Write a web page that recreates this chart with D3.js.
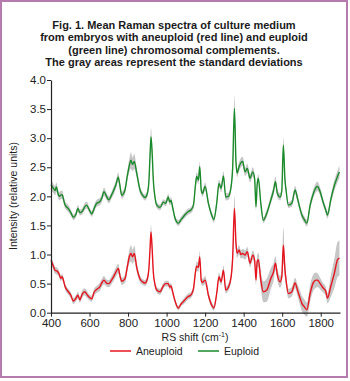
<!DOCTYPE html>
<html><head><meta charset="utf-8">
<script src="https://cdn.jsdelivr.net/npm/d3@7"></script>
<style>
html,body{margin:0;padding:0;background:#fff;}
svg{display:block;}
text{font-family:"Liberation Sans",Arial,Helvetica,sans-serif;}
</style></head>
<body>
<svg id="chart" width="350" height="381"></svg>
<script>
const titleLines = [
  "Fig. 1. Mean Raman spectra of culture medium",
  "from embryos with aneuploid (red line) and euploid",
  "(green line) chromosomal complements.",
  "The gray areas represent the standard deviations"
];
const xTicks = [400,600,800,1000,1200,1400,1600,1800];
const yTicks = [0,0.5,1,1.5,2,2.5,3,3.5,4];
const seriesNames = ["Aneuploid","Euploid"];

const shift = [
400,410,421,428,436,443,450,458,465,473,
490,503,516,528,540,550,562,575,585,597,
611,625,637,654,665,675,688,700,714,725,
737,749,757,767,784,796,808,815,823,832,
845,862,875,888,900,908,914,919,925,931,
940,949,966,983,995,1009,1016,1023,1032,1044,
1061,1075,1087,1100,1113,1125,1139,1150,1156,1165,
1172,1180,1186,1200,1217,1234,1245,1260,1272,1283,
1295,1307,1321,1335,1343,1352,1360,1366,1376,1386,
1395,1407,1419,1433,1447,1457,1464,1470,1476,1489,
1502,1520,1541,1555,1565,1575,1589,1598,1606,1614,
1620,1632,1650,1667,1679,1690,1702,1715,1728,1745,
1762,1775,1783,1797,1814,1825,1835,1852,1871,1887,
1897];

const euploid = [
2.20,2.15,2.10,2.16,2.05,2.00,2.02,2.03,1.95,1.85,
1.79,1.72,1.64,1.68,1.79,1.72,1.74,1.82,1.85,1.78,
1.70,1.80,1.88,1.91,1.98,2.08,2.00,1.94,2.02,2.10,
2.20,2.33,2.20,2.02,2.11,2.35,2.55,2.62,2.55,2.60,
2.40,2.11,2.02,1.98,2.05,2.25,2.70,3.02,2.75,2.28,
1.98,1.85,1.81,1.90,1.88,1.99,1.90,1.93,1.80,1.62,
1.54,1.60,1.65,1.70,1.74,1.76,1.84,2.20,2.34,2.28,
2.51,2.10,2.05,2.17,1.88,1.68,1.60,1.88,2.22,2.14,
2.35,1.99,2.00,2.17,2.50,3.51,2.60,2.40,2.51,2.58,
2.60,2.42,2.48,2.31,2.42,2.30,1.82,2.20,2.31,1.88,
1.59,1.71,1.94,2.10,2.25,2.05,1.99,2.10,2.88,2.30,
2.11,1.85,1.88,2.11,1.97,1.82,1.68,1.60,1.54,1.85,
2.05,2.15,2.17,2.08,1.88,1.78,1.68,1.94,2.19,2.34,
2.42];

const euploidSD = [
.09,.08,.08,.08,.07,.07,.07,.07,.06,.06,
.06,.05,.05,.05,.06,.05,.05,.06,.06,.05,
.05,.06,.06,.06,.07,.07,.06,.06,.06,.07,
.07,.08,.07,.06,.07,.08,.12,.14,.12,.13,
.08,.06,.05,.05,.06,.08,.12,.15,.12,.08,
.05,.05,.05,.05,.05,.06,.05,.06,.05,.05,
.05,.05,.05,.05,.05,.05,.06,.07,.08,.07,
.09,.06,.06,.07,.06,.05,.05,.06,.07,.07,
.08,.06,.06,.07,.10,.22,.10,.07,.08,.08,
.08,.07,.08,.07,.08,.07,.06,.07,.07,.06,
.05,.06,.07,.08,.09,.07,.06,.07,.13,.08,
.06,.05,.06,.07,.07,.06,.06,.06,.06,.07,
.07,.08,.08,.07,.06,.06,.06,.07,.09,.10,
.11];

const aneuploid = [
0.90,0.82,0.73,0.72,0.70,0.66,0.59,0.62,0.55,0.45,
0.36,0.30,0.20,0.24,0.30,0.22,0.32,0.36,0.32,0.27,
0.24,0.36,0.40,0.45,0.52,0.56,0.51,0.50,0.56,0.62,
0.70,0.76,0.65,0.54,0.58,0.79,0.98,1.02,0.96,1.02,
0.78,0.58,0.53,0.51,0.58,0.75,1.10,1.39,1.10,0.70,
0.48,0.39,0.36,0.46,0.50,0.50,0.44,0.46,0.35,0.20,
0.08,0.15,0.19,0.24,0.28,0.30,0.40,0.70,0.80,0.78,
0.96,0.55,0.52,0.56,0.30,0.13,0.08,0.33,0.62,0.53,
0.73,0.39,0.44,0.62,0.95,1.79,1.20,1.02,1.08,1.00,
1.02,0.99,1.05,0.85,0.99,0.90,0.56,0.88,0.91,0.56,
0.36,0.39,0.59,0.70,0.85,0.65,0.53,0.62,1.16,0.75,
0.56,0.33,0.36,0.51,0.39,0.28,0.16,0.10,0.05,0.33,
0.52,0.56,0.56,0.50,0.42,0.38,0.25,0.45,0.68,0.91,
0.94];

const aneuploidSD = [
.07,.06,.06,.06,.06,.05,.05,.05,.05,.05,
.05,.05,.05,.05,.06,.05,.06,.06,.06,.05,
.05,.06,.06,.07,.07,.07,.06,.06,.07,.07,
.08,.08,.07,.06,.07,.08,.12,.14,.12,.13,
.08,.06,.05,.05,.06,.08,.10,.12,.10,.07,
.05,.05,.05,.05,.05,.05,.05,.05,.05,.04,
.04,.04,.05,.05,.05,.05,.06,.07,.08,.08,
.10,.06,.06,.07,.06,.05,.05,.06,.07,.06,
.08,.06,.06,.08,.12,.22,.12,.08,.08,.07,
.08,.08,.08,.07,.08,.09,.08,.10,.12,.15,
.18,.20,.18,.15,.12,.10,.10,.12,.30,.15,
.10,.08,.08,.09,.10,.12,.13,.13,.12,.14,
.14,.13,.12,.10,.08,.08,.09,.18,.25,.30,
.30];

const colors = {Aneuploid:"#e6141d", Euploid:"#1a8a2a"};

const svg = d3.select("#chart");

// border
svg.append("rect").attr("x",1).attr("y",1).attr("width",346).attr("height",376)
  .attr("fill","#fff").attr("stroke","#b57aae").attr("stroke-width",2);

// title
const title = svg.append("text").attr("text-anchor","middle")
  .attr("font-size","11px").attr("font-weight","bold").attr("fill","#1a1a1a");
titleLines.forEach((t,i)=>{
  title.append("tspan").attr("x",174).attr("y",29 + i*12.4).text(t);
});

const x = d3.scaleLinear().domain([400,1900]).range([51,340]);
const y = d3.scaleLinear().domain([0,4]).range([312.7,80]);

const series = [
  {name:"Aneuploid", mean:aneuploid, sd:aneuploidSD},
  {name:"Euploid", mean:euploid, sd:euploidSD}
];

const area = d3.area()
  .x((d,i)=>x(shift[i]))
  .y0(d=>y(d.m - d.s))
  .y1(d=>y(d.m + d.s))
  .curve(d3.curveMonotoneX);
const line = d3.line()
  .x((d,i)=>x(shift[i]))
  .y(d=>y(d.m))
  .curve(d3.curveMonotoneX);

series.forEach(s=>{
  const pts = s.mean.map((m,i)=>({m:m, s:s.sd[i]}));
  svg.append("path").attr("d",area(pts)).attr("fill","#c6c6c6");
});
series.forEach(s=>{
  const pts = s.mean.map((m,i)=>({m:m, s:s.sd[i]}));
  svg.append("path").attr("d",line(pts)).attr("fill","none")
    .attr("stroke",colors[s.name]).attr("stroke-width",1.4)
    .attr("stroke-linejoin","round");
});

// axes
const xAxis = d3.axisBottom(x).tickValues(xTicks).tickSizeInner(4).tickSizeOuter(0).tickPadding(2).tickFormat(d3.format("d"));
const gx = svg.append("g").attr("transform","translate(0,312.7)").call(xAxis);
const yAxis = d3.axisLeft(y).tickValues(yTicks).tickSizeInner(4).tickSizeOuter(0).tickPadding(1).tickFormat(d3.format(".1f"));
const gy = svg.append("g").attr("transform","translate(51,0)").call(yAxis);
[gx,gy].forEach(g=>{
  g.selectAll("path").attr("stroke","#222").attr("stroke-width",1.2);
  g.selectAll("line").attr("stroke","#222");
  g.selectAll("text").attr("font-size","11.5px").attr("fill","#222")
    .attr("font-family","'Liberation Sans',Arial,sans-serif");
});

// axis titles
svg.append("text").attr("transform","translate(17,196) rotate(-90)")
  .attr("text-anchor","middle").attr("font-size","10.5px").attr("fill","#222")
  .text("Intensity (relative units)");
const xl = svg.append("text").attr("x",195).attr("y",341).attr("text-anchor","middle")
  .attr("font-size","10.5px").attr("fill","#222");
xl.append("tspan").text("RS shift (cm");
xl.append("tspan").attr("font-size","7px").attr("dy",-4).text("-1");
xl.append("tspan").attr("dy",4).text(")");

// legend
const legendX = [110,198];
seriesNames.forEach((n,i)=>{
  const g = svg.append("g").attr("transform",`translate(${legendX[i]},351)`);
  g.append("line").attr("x1",0).attr("x2",21).attr("y1",0).attr("y2",0)
    .attr("stroke",colors[n]).attr("stroke-width",1.5);
  g.append("text").attr("x",26).attr("y",3.8).attr("font-size","10.5px").attr("fill","#222").text(n);
});
</script>
</body></html>
